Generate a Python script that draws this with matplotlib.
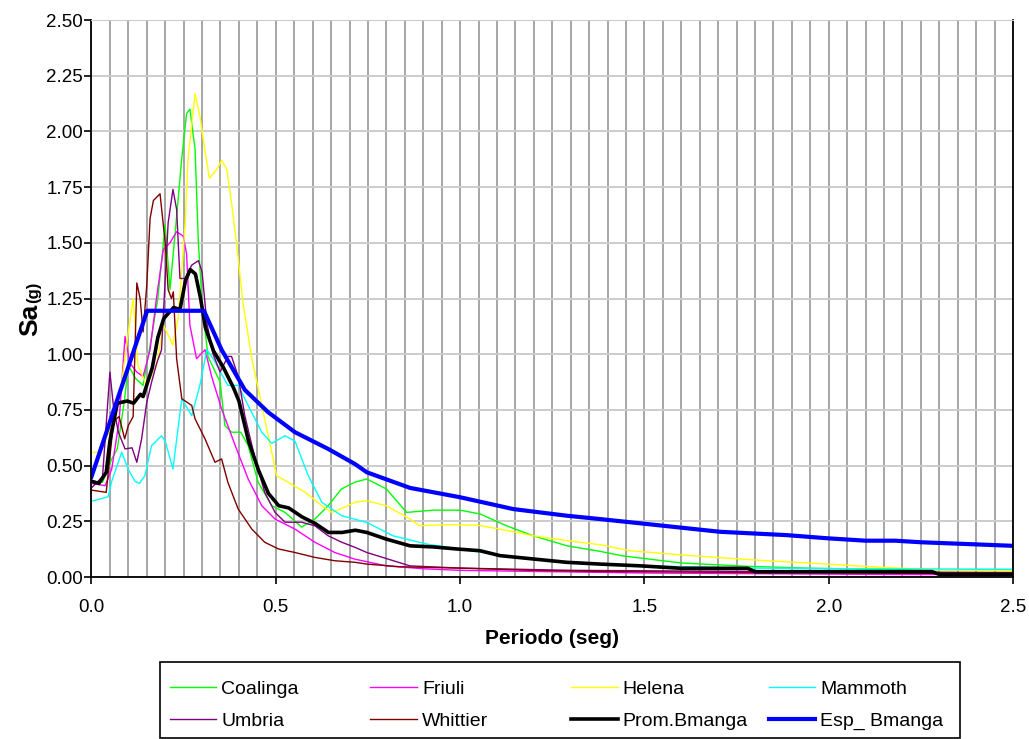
import matplotlib

matplotlib.use("Agg")

import matplotlib.pyplot as plt
from matplotlib.patches import Rectangle
from matplotlib.ticker import MultipleLocator, FormatStrFormatter

plt.rcParams["font.family"] = ["Liberation Sans", "DejaVu Sans"]

# Periodo (seg) / Sa (g)
coalinga_t = [0.0, 0.03, 0.055, 0.07, 0.09, 0.10, 0.12, 0.14, 0.16, 0.18, 0.20, 0.213, 0.23, 0.245,
              0.258, 0.267, 0.281, 0.29, 0.30, 0.316, 0.349, 0.362, 0.38, 0.405, 0.425, 0.452, 0.489,
              0.525, 0.57, 0.606, 0.642, 0.678, 0.715, 0.747, 0.80, 0.855, 0.927, 1.0, 1.054, 1.126,
              1.198, 1.29, 1.38, 1.44, 1.60, 1.78, 1.96, 2.2, 2.5]
coalinga_sa = [0.43, 0.425, 0.53, 0.575, 0.80, 0.95, 0.89, 0.86, 1.05, 1.25, 1.58, 1.29, 1.60, 1.88,
               2.08, 2.10, 1.92, 1.50, 1.23, 0.99, 0.875, 0.68, 0.65, 0.65, 0.59, 0.426, 0.32,
               0.29, 0.224, 0.26, 0.32, 0.395, 0.426, 0.44, 0.395, 0.29, 0.30, 0.30, 0.283, 0.23,
               0.185, 0.14, 0.115, 0.095, 0.063, 0.048, 0.039, 0.033, 0.033]

friuli_t = [0.0, 0.037, 0.055, 0.075, 0.091, 0.104, 0.123, 0.14, 0.159, 0.177, 0.195, 0.213, 0.231,
            0.249, 0.258, 0.267, 0.285, 0.308, 0.326, 0.353, 0.39, 0.425, 0.462, 0.498, 0.552, 0.606,
            0.66, 0.715, 0.80, 0.90, 1.0, 1.2, 1.5, 1.8, 2.1, 2.5]
friuli_sa = [0.42, 0.41, 0.485, 0.70, 1.08, 0.96, 0.92, 0.90, 1.02, 1.26, 1.47, 1.50, 1.55,
             1.53, 1.45, 1.13, 0.98, 1.02, 0.90, 0.754, 0.59, 0.44, 0.32, 0.26, 0.215, 0.156,
             0.11, 0.08, 0.05, 0.037, 0.03, 0.025, 0.018, 0.015, 0.012, 0.01]

helena_t = [0.0, 0.02, 0.04, 0.06, 0.08, 0.10, 0.113, 0.126, 0.15, 0.177, 0.195, 0.213, 0.22, 0.235,
            0.254, 0.262, 0.281, 0.294, 0.308, 0.32, 0.34, 0.353, 0.367, 0.38, 0.394, 0.411, 0.435,
            0.457, 0.489, 0.502, 0.533, 0.58, 0.625, 0.652, 0.688, 0.715, 0.747, 0.80, 0.864, 0.89,
            0.955, 1.045, 1.108, 1.198, 1.29, 1.38, 1.46, 1.624, 1.83, 1.995, 2.14, 2.28, 2.5]
helena_sa = [0.56, 0.56, 0.62, 0.72, 0.85, 1.10, 1.25, 0.95, 0.86, 0.95, 1.13, 1.07, 1.04, 1.16,
             1.58, 1.88, 2.17, 2.07, 1.91, 1.79, 1.83, 1.87, 1.83, 1.68, 1.49, 1.23, 0.98,
             0.81, 0.56, 0.455, 0.426, 0.38, 0.32, 0.29, 0.314, 0.336, 0.342, 0.32, 0.26, 0.23,
             0.235, 0.233, 0.215, 0.185, 0.163, 0.145, 0.118, 0.096, 0.073, 0.058, 0.044, 0.033, 0.028]

mammoth_t = [0.0, 0.045, 0.055, 0.082, 0.099, 0.118, 0.13, 0.145, 0.163, 0.19, 0.2, 0.221, 0.245,
             0.272, 0.294, 0.313, 0.33, 0.37, 0.398, 0.425, 0.462, 0.489, 0.525, 0.552, 0.588, 0.625,
             0.679, 0.747, 0.818, 0.909, 1.0, 1.09, 1.198, 1.29, 1.38, 1.5, 1.8, 2.1, 2.5]
mammoth_sa = [0.34, 0.36, 0.43, 0.56, 0.485, 0.43, 0.42, 0.455, 0.59, 0.634, 0.61, 0.485, 0.80,
              0.724, 0.86, 1.02, 0.98, 0.86, 0.86, 0.77, 0.65, 0.60, 0.634, 0.61, 0.455, 0.335,
              0.275, 0.245, 0.185, 0.148, 0.126, 0.103, 0.081, 0.069, 0.06, 0.05, 0.04, 0.037, 0.035]

umbria_t = [0.0, 0.03, 0.05, 0.06, 0.073, 0.091, 0.11, 0.123, 0.136, 0.15, 0.163, 0.177, 0.19, 0.208,
            0.221, 0.231, 0.24, 0.254, 0.272, 0.29, 0.30, 0.313, 0.33, 0.349, 0.37, 0.38, 0.398,
            0.416, 0.444, 0.47, 0.498, 0.525, 0.57, 0.606, 0.642, 0.679, 0.715, 0.747, 0.864, 1.0,
            1.3, 1.8, 2.5]
umbria_sa = [0.40, 0.45, 0.92, 0.76, 0.65, 0.575, 0.58, 0.515, 0.62, 0.785, 0.874, 0.96, 1.02, 1.59,
             1.74, 1.65, 1.34, 1.34, 1.40, 1.42, 1.37, 1.14, 1.0, 0.92, 0.99, 0.99, 0.90,
             0.724, 0.53, 0.38, 0.29, 0.246, 0.246, 0.23, 0.185, 0.156, 0.133, 0.11, 0.05, 0.04,
             0.03, 0.025, 0.02]

whittier_t = [0.0, 0.04, 0.06, 0.075, 0.09, 0.10, 0.113, 0.123, 0.132, 0.14, 0.15, 0.159, 0.168,
              0.186, 0.2, 0.208, 0.217, 0.222, 0.231, 0.245, 0.272, 0.281, 0.308, 0.335, 0.353,
              0.37, 0.398, 0.435, 0.47, 0.507, 0.552, 0.606, 0.66, 0.715, 0.747, 0.837, 1.0, 1.2,
              1.38, 1.8, 2.5]
whittier_sa = [0.39, 0.38, 0.70, 0.72, 0.62, 0.68, 0.72, 1.32, 1.25, 1.10, 1.31, 1.61, 1.69,
               1.72, 1.50, 1.29, 1.25, 1.28, 0.98, 0.80, 0.77, 0.71, 0.62, 0.515, 0.53,
               0.425, 0.305, 0.215, 0.156, 0.126, 0.11, 0.088, 0.073, 0.066, 0.058, 0.046, 0.04, 0.03,
               0.025, 0.02, 0.015]

prom_t = [0.0, 0.02, 0.04, 0.05, 0.07, 0.097, 0.114, 0.133, 0.14, 0.165, 0.18, 0.196, 0.223, 0.24,
          0.255, 0.268, 0.282, 0.296, 0.309, 0.331, 0.358, 0.385, 0.40, 0.426, 0.453, 0.48, 0.508,
          0.535, 0.571, 0.607, 0.643, 0.68, 0.716, 0.747, 0.80, 0.864, 0.927, 0.99, 1.054, 1.108,
          1.198, 1.289, 1.38, 1.49, 1.60, 1.78, 1.80, 1.99, 2.28, 2.30, 2.5]
prom_sa = [0.43, 0.42, 0.47, 0.61, 0.78, 0.79, 0.78, 0.82, 0.81, 0.94, 1.075, 1.16, 1.21, 1.20,
           1.33, 1.38, 1.36, 1.25, 1.12, 1.015, 0.94, 0.85, 0.79, 0.61, 0.48, 0.375, 0.32,
           0.31, 0.27, 0.24, 0.20, 0.20, 0.21, 0.20, 0.17, 0.14, 0.135, 0.126, 0.118, 0.096,
           0.081, 0.066, 0.058, 0.05, 0.039, 0.039, 0.024, 0.024, 0.024, 0.012, 0.012]

esp_t = [0.0, 0.151, 0.305, 0.353, 0.416, 0.479, 0.552, 0.642, 0.715, 0.747, 0.864, 1.0, 1.144,
         1.29, 1.38, 1.506, 1.705, 1.886, 1.995, 2.10, 2.18, 2.25, 2.5]
esp_sa = [0.45, 1.195, 1.195, 1.02, 0.84, 0.74, 0.65, 0.575, 0.507, 0.47, 0.40, 0.358, 0.305,
          0.275, 0.26, 0.238, 0.203, 0.188, 0.174, 0.163, 0.163, 0.156, 0.14]

# columnas de la leyenda, igual que en la figura original
legend_columns = [["Coalinga", "Umbria"], ["Friuli", "Whittier"],
                  ["Helena", "Prom.Bmanga"], ["Mammoth", "Esp_ Bmanga"]]
legend_x = [0.165, 0.360, 0.555, 0.747]


fig = plt.figure(figsize=(10.29, 7.39), dpi=100)
ax = fig.add_axes([0.0889, 0.2192, 0.8956, 0.7537])

lines = {}
lines["Coalinga"], = ax.plot(coalinga_t, coalinga_sa, color="#00ff00", lw=1.0)
lines["Friuli"], = ax.plot(friuli_t, friuli_sa, color="#ff00ff", lw=1.0)
lines["Helena"], = ax.plot(helena_t, helena_sa, color="#ffff00", lw=1.0)
lines["Mammoth"], = ax.plot(mammoth_t, mammoth_sa, color="#00ffff", lw=1.0)
lines["Umbria"], = ax.plot(umbria_t, umbria_sa, color="#800080", lw=1.0)
lines["Whittier"], = ax.plot(whittier_t, whittier_sa, color="#800000", lw=1.0)
lines["Prom.Bmanga"], = ax.plot(prom_t, prom_sa, color="black", lw=2.6)
lines["Esp_ Bmanga"], = ax.plot(esp_t, esp_sa, color="#0000ff", lw=3.0)

ax.set_xlim(0, 2.5)
ax.set_ylim(0, 2.5)
ax.xaxis.set_major_locator(MultipleLocator(0.5))
ax.xaxis.set_minor_locator(MultipleLocator(0.05))
ax.yaxis.set_major_locator(MultipleLocator(0.25))
ax.xaxis.set_major_formatter(FormatStrFormatter("%.1f"))
ax.yaxis.set_major_formatter(FormatStrFormatter("%.2f"))

ax.grid(True, which="both", axis="x", color="#a6a6a6", lw=1.4)
ax.grid(True, which="major", axis="y", color="#cccccc", lw=1.4)
ax.set_axisbelow(True)
ax.tick_params(axis="both", which="major", direction="out", length=5, width=1.2,
               labelsize=13.5, colors="black")
ax.tick_params(axis="x", which="major", pad=11)
ax.tick_params(axis="y", which="major", pad=1)
ax.tick_params(axis="x", which="minor", length=0)
for side in ["left", "bottom", "right"]:
    ax.spines[side].set_color("black")
    ax.spines[side].set_linewidth(1.3)
ax.spines["top"].set_color("#cccccc")

ax.set_xlabel("Periodo (seg)", fontsize=15, fontweight="bold", labelpad=9)
fig.text(0.029, 0.567, "Sa", rotation=90, fontsize=19, fontweight="bold", ha="center", va="center")
fig.text(0.033, 0.605, "(g)", rotation=90, fontsize=12, fontweight="bold", ha="center", va="center")

for labels, x in zip(legend_columns, legend_x):
    leg = fig.legend([lines[k] for k in labels], labels, loc="center left",
                     bbox_to_anchor=(x, 0.046), frameon=False, fontsize=14,
                     handlelength=2.4, handletextpad=0.25, borderpad=0,
                     borderaxespad=0, labelspacing=0.75)

fig.patches.append(Rectangle((0.1555, 0.0014), 0.7775, 0.1028, transform=fig.transFigure,
                             fill=False, edgecolor="black", lw=1.2))

fig.savefig("out.png", dpi=100)
